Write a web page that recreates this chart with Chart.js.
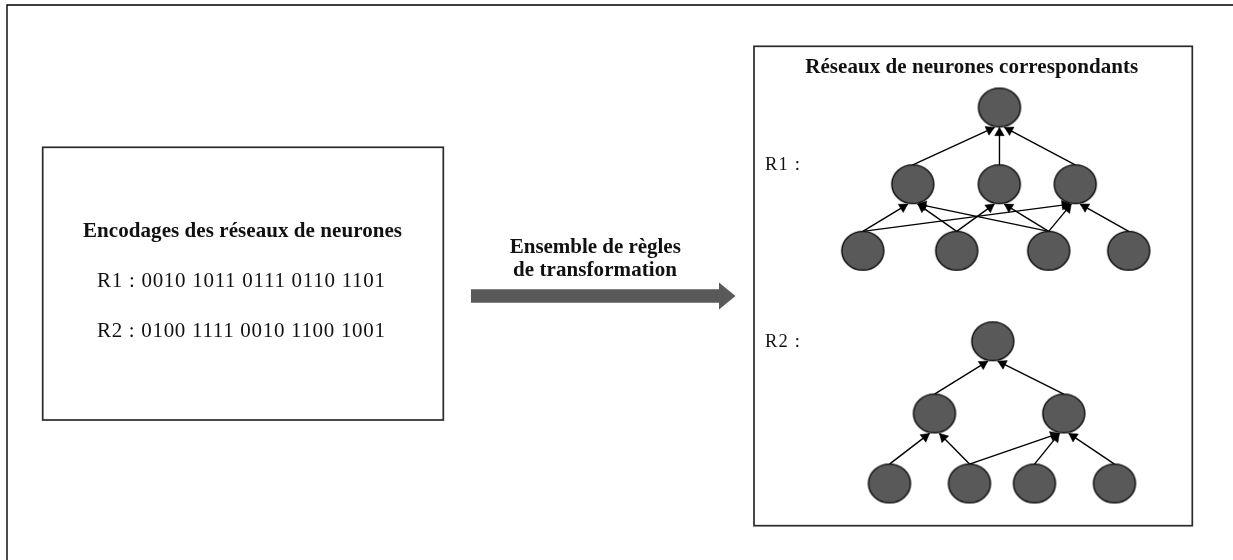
<!DOCTYPE html>
<html><head><meta charset="utf-8">
<script src="https://cdn.jsdelivr.net/npm/chart.js@4"></script>
<style>html,body{margin:0;padding:0;background:#fff;overflow:hidden}canvas{display:block}</style>
</head><body>
<canvas id="c" width="1233" height="560"></canvas>
<script>
// ---- content / data ----
const leftTitle = "Encodages des réseaux de neurones";
const encodings = ["R1 : 0010 1011 0111 0110 1101", "R2 : 0100 1111 0010 1100 1001"];
const arrowLabel = ["Ensemble de règles", "de transformation"];
const rightTitle = "Réseaux de neurones correspondants";
const netLabels = ["R1 :", "R2 :"];
// network R1 nodes (diagram units) and edges [from, to]
const r1NodeX = [999.5, 912.8, 999.3, 1075.2, 862.8, 956.7, 1048.7, 1128.7];
const r1NodeY = [107.5, 184.2, 184.2, 184.2, 250.8, 250.8, 250.8, 250.8];
const r1Edges = [[4,1],[4,3],[5,1],[5,2],[6,1],[6,2],[6,3],[7,3],[1,0],[2,0],[3,0]];
// network R2
const r2NodeX = [992.8, 934.5, 1063.8, 889.5, 969.5, 1034.5, 1114.5];
const r2NodeY = [341.3, 413.5, 413.5, 483.5, 483.5, 483.5, 483.5];
const r2Edges = [[3,1],[4,1],[4,2],[5,2],[6,2],[1,0],[2,0]];

// ---- layout / style ----
const W = 1233, H = 560;
const NODE_RX = 21, NODE_RY = 19.4;
const HEAD_R = 5.5;
const FONT = '"Liberation Serif", "DejaVu Serif", serif';
const layout = {
  frame: {x: 7, y: 5},
  leftBox: {x1: 42.7, y1: 147.3, x2: 443.3, y2: 420},
  rightBox: {x1: 754, y1: 46.3, x2: 1192.3, y2: 525.7},
  bigArrow: {x1: 471, x2: 719, tip: 735.5, yc: 296, half: 6.8, headHalf: 13.5}
};

function ellipseImage() {
  const c = document.createElement('canvas');
  c.width = 46; c.height = 42;
  const g = c.getContext('2d');
  g.beginPath();
  g.ellipse(23, 21, NODE_RX, NODE_RY, 0, 0, 2 * Math.PI);
  g.fillStyle = '#595959'; g.fill();
  g.lineWidth = 1.4; g.strokeStyle = '#0a0a0a'; g.stroke();
  return c;
}
const nodeImg = ellipseImage();

function buildNetwork(xs, ys, edges) {
  const nodes = xs.map((x, i) => ({x: x, y: ys[i]}));
  const lines = [], heads = [], rots = [];
  edges.forEach(([a, b]) => {
    const s = nodes[a], t = nodes[b];
    const dx = s.x - t.x;
    const shift = Math.sign(dx) * Math.min(5, Math.abs(dx) * 0.15);
    const start = {x: s.x, y: s.y - NODE_RY};
    const tip = {x: t.x + shift, y: t.y + NODE_RY + 0.5};
    const vx = tip.x - start.x, vy = tip.y - start.y;
    const len = Math.hypot(vx, vy);
    const ux = vx / len, uy = vy / len;
    lines.push([start, tip]);
    heads.push({x: tip.x - ux * HEAD_R, y: tip.y - uy * HEAD_R});
    rots.push(Math.atan2(ux, -uy) * 180 / Math.PI);
  });
  return {nodes, lines, heads, rots};
}
const net1 = buildNetwork(r1NodeX, r1NodeY, r1Edges);
const net2 = buildNetwork(r2NodeX, r2NodeY, r2Edges);

const datasets = [];
datasets.push({
  label: 'nodes', data: net1.nodes.concat(net2.nodes),
  pointStyle: nodeImg, pointRadius: 21, order: 0, clip: false
});
datasets.push({
  label: 'heads', data: net1.heads.concat(net2.heads),
  pointStyle: 'triangle', pointRadius: HEAD_R, pointRotation: net1.rots.concat(net2.rots),
  backgroundColor: '#000', borderColor: '#000', borderWidth: 0.5, order: 1, clip: false
});
net1.lines.concat(net2.lines).forEach((l, i) => {
  datasets.push({
    label: 'edge' + i, data: l, showLine: true, pointRadius: 0,
    borderColor: '#000', borderWidth: 1.4, order: 2, clip: false
  });
});

function drawFitted(ctx, text, cx, baseline, size, bold, targetW) {
  ctx.font = (bold ? 'bold ' : '') + size + 'px ' + FONT;
  ctx.letterSpacing = '0px';
  const w = ctx.measureText(text).width;
  const ls = (targetW - w) / (text.length - 1);
  ctx.letterSpacing = ls + 'px';
  ctx.textAlign = 'left';
  ctx.textBaseline = 'alphabetic';
  ctx.fillStyle = '#111';
  ctx.fillText(text, cx - targetW / 2, baseline);
  ctx.letterSpacing = '0px';
}

const diagramPlugin = {
  id: 'diagram',
  beforeDatasetsDraw(chart) {
    const ctx = chart.ctx;
    const sx = chart.scales.x, sy = chart.scales.y;
    const px = v => sx.getPixelForValue(v), py = v => sy.getPixelForValue(v);
    ctx.save();
    // outer frame (top + left)
    ctx.strokeStyle = '#000'; ctx.lineWidth = 1.4;
    ctx.beginPath();
    ctx.moveTo(px(layout.frame.x), py(H));
    ctx.lineTo(px(layout.frame.x), py(layout.frame.y));
    ctx.lineTo(px(W), py(layout.frame.y));
    ctx.stroke();
    // boxes
    ctx.strokeStyle = '#2a2a2a'; ctx.lineWidth = 1.7;
    [layout.leftBox, layout.rightBox].forEach(b => {
      ctx.strokeRect(px(b.x1), py(b.y1), px(b.x2) - px(b.x1), py(b.y2) - py(b.y1));
    });
    // big arrow
    const a = layout.bigArrow;
    ctx.fillStyle = '#595959';
    ctx.beginPath();
    ctx.moveTo(px(a.x1), py(a.yc - a.half));
    ctx.lineTo(px(a.x2), py(a.yc - a.half));
    ctx.lineTo(px(a.x2), py(a.yc - a.headHalf));
    ctx.lineTo(px(a.tip), py(a.yc));
    ctx.lineTo(px(a.x2), py(a.yc + a.headHalf));
    ctx.lineTo(px(a.x2), py(a.yc + a.half));
    ctx.lineTo(px(a.x1), py(a.yc + a.half));
    ctx.closePath();
    ctx.fill();
    // texts
    drawFitted(ctx, leftTitle, px(242.5), py(237), 21, true, 319);
    drawFitted(ctx, encodings[0], px(241), py(287), 21, false, 288);
    drawFitted(ctx, encodings[1], px(241), py(337), 21, false, 288);
    drawFitted(ctx, arrowLabel[0], px(595.3), py(253.3), 21, true, 171);
    drawFitted(ctx, arrowLabel[1], px(595), py(275.5), 21, true, 164);
    drawFitted(ctx, rightTitle, px(971.7), py(73.3), 21, true, 333);
    drawFitted(ctx, netLabels[0], px(782.5), py(170), 18.5, false, 35);
    drawFitted(ctx, netLabels[1], px(782.5), py(346.7), 18.5, false, 35);
    ctx.restore();
  }
};

new Chart(document.getElementById('c'), {
  type: 'scatter',
  data: {datasets: datasets},
  options: {
    responsive: false, animation: false,
    layout: {padding: 0, autoPadding: false},
    plugins: {legend: {display: false}, tooltip: {enabled: false}},
    scales: {
      x: {type: 'linear', min: 0, max: W, display: false},
      y: {type: 'linear', min: 0, max: H, reverse: true, display: false}
    }
  },
  plugins: [diagramPlugin]
});
</script>
</body></html>
